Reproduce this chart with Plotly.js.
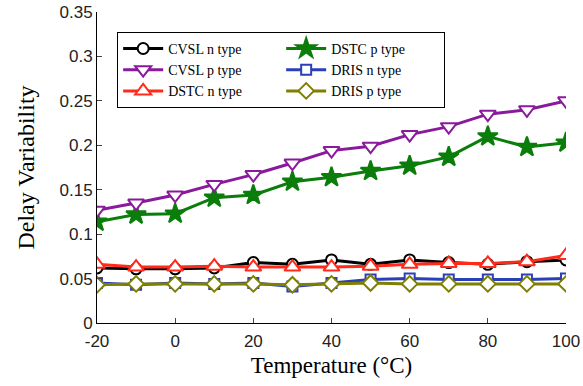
<!DOCTYPE html>
<html>
<head>
<meta charset="utf-8">
<script src="https://cdn.plot.ly/plotly-3.0.1.min.js"></script>
<style>html,body{margin:0;padding:0;background:#fff;}#chart{width:583px;height:386px;}</style>
</head>
<body>
<div id="chart"></div>
<script>
const temperature = [-20, -10, 0, 10, 20, 30, 40, 50, 60, 70, 80, 90, 100];
const cvslN = [0.062, 0.061, 0.061, 0.062, 0.068, 0.066, 0.071, 0.066, 0.071, 0.068, 0.066, 0.069, 0.071];
const cvslP = [0.127, 0.135, 0.144, 0.156, 0.167, 0.180, 0.194, 0.199, 0.212, 0.221, 0.235, 0.240, 0.250];
const dstcN = [0.066, 0.063, 0.063, 0.064, 0.063, 0.063, 0.063, 0.064, 0.066, 0.067, 0.067, 0.069, 0.076];
const dstcP = [0.114, 0.122, 0.123, 0.141, 0.144, 0.159, 0.164, 0.171, 0.177, 0.187, 0.210, 0.198, 0.203];
const drisN = [0.045, 0.043, 0.045, 0.044, 0.045, 0.041, 0.045, 0.049, 0.050, 0.049, 0.049, 0.049, 0.050];
const drisP = [0.043, 0.044, 0.044, 0.044, 0.044, 0.043, 0.044, 0.045, 0.044, 0.044, 0.044, 0.044, 0.044];
const yTicks = [0, 0.05, 0.1, 0.15, 0.2, 0.25, 0.3, 0.35];
const yTickLabels = ['0', '0.05', '0.1', '0.15', '0.2', '0.25', '0.3', '0.35'];
const xTicks = [-20, 0, 20, 40, 60, 80, 100];
const xTickLabels = ['-20', '0', '20', '40', '60', '80', '100'];

function tr(name, y, color, symbol, size, fill) {
  return {
    x: temperature, y: y, name: name, type: 'scatter', mode: 'lines+markers',
    line: {color: color, width: 3},
    marker: {symbol: symbol, size: size, color: fill || '#ffffff', line: {color: color, width: 2}}
  };
}
const data = [
  tr('CVSL n type', cvslN, '#000000', 'circle', 11),
  tr('DSTC p type', dstcP, '#0a7d0a', 'star', 15, '#0a7d0a'),
  tr('CVSL p type', cvslP, '#8a1a9c', 'triangle-down', 14),
  tr('DRIS n type', drisN, '#2a3fb8', 'square', 10),
  tr('DSTC n type', dstcN, '#ff2a1a', 'triangle-up', 14),
  tr('DRIS p type', drisP, '#7f7f00', 'diamond', 12)
];
const layout = {
  width: 583, height: 386,
  margin: {l: 97, r: 17, t: 12, b: 63},
  paper_bgcolor: '#ffffff', plot_bgcolor: '#ffffff',
  showlegend: true,
  legend: {
    orientation: 'h', x: 0.043, y: 0.936, xanchor: 'left', yanchor: 'top',
    entrywidth: 108, entrywidthmode: 'pixels',
    bgcolor: '#ffffff', bordercolor: '#000000', borderwidth: 1,
    font: {family: 'Liberation Serif', size: 14, color: '#000'},
    itemwidth: 40, tracegroupgap: 0
  },
  xaxis: {
    range: [-20, 100], tickvals: xTicks, ticktext: xTickLabels, ticks: 'inside', ticklen: 5,
    showline: true, linecolor: '#000', linewidth: 1, mirror: false,
    showgrid: false, zeroline: false, ticklabelstandoff: 3,
    tickfont: {family: 'Liberation Sans', size: 17, color: '#222'},
    title: {text: 'Temperature (°C)', font: {family: 'Liberation Serif', size: 23, color: '#000'}, standoff: 6}
  },
  yaxis: {
    range: [0, 0.35], tickvals: yTicks, ticktext: yTickLabels, ticks: 'inside', ticklen: 5,
    showline: true, linecolor: '#000', linewidth: 1, mirror: false,
    showgrid: false, zeroline: false, ticklabelstandoff: 0,
    tickfont: {family: 'Liberation Sans', size: 17, color: '#222'},
    title: {text: 'Delay Variability', font: {family: 'Liberation Serif', size: 24, color: '#000'}, standoff: 18}
  }
};
Plotly.newPlot('chart', data, layout, {displayModeBar: false, staticPlot: true});
</script>
</body>
</html>
